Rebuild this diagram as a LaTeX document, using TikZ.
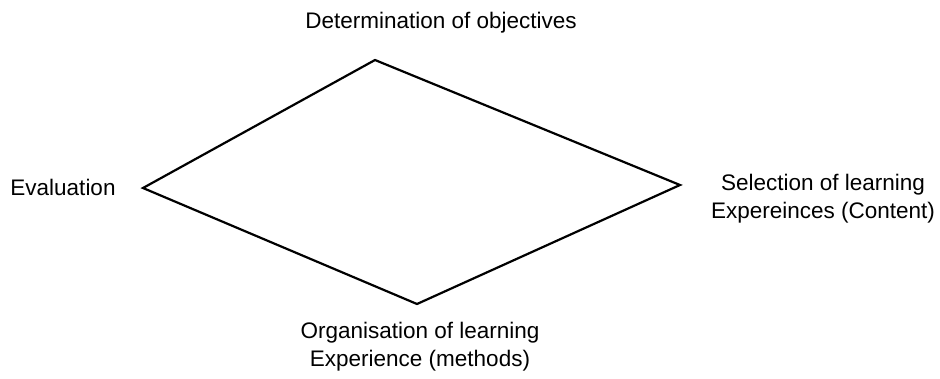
\documentclass[tikz,border=0pt]{standalone}
\usepackage{fontspec}
\setmainfont{Liberation Sans}
\begin{document}
\begin{tikzpicture}[x=1pt,y=-1pt,
  lbl/.style={font=\fontsize{22.5}{28}\selectfont, align=center, inner sep=0pt},
  edge/.style={draw=black, line width=2.2pt, line join=miter}]
\useasboundingbox (0,0) rectangle (940,378);
\coordinate (T) at (375,60);
\coordinate (L) at (143,188);
\coordinate (R) at (680,185);
\coordinate (B) at (417,304);
\draw[edge] (T) -- (R) -- (B) -- (L) -- cycle;
\node[lbl] (top) at (441,23) {Determination of objectives};
\node[lbl] (left) at (63,187) {Evaluation};
\node[lbl] (right) at (823,199) {Selection of learning\\Expereinces (Content)};
\node[lbl] (bottom) at (420,347) {Organisation of learning\\Experience (methods)};
\end{tikzpicture}
\end{document}
